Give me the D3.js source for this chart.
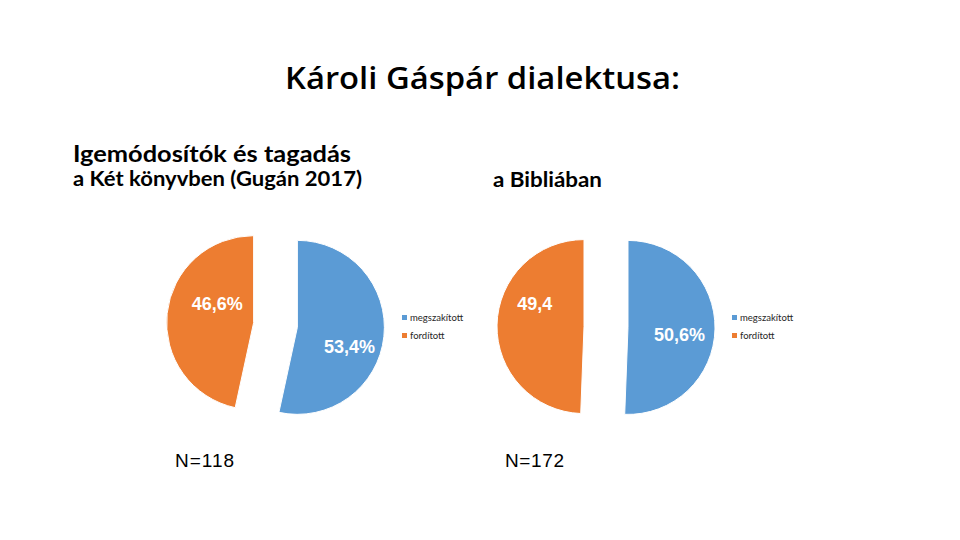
<!DOCTYPE html>
<html>
<head>
<meta charset="utf-8">
<script src="https://cdn.jsdelivr.net/npm/d3@7"></script>
<style>
  html, body { margin: 0; padding: 0; background: #fff; }
  svg { display: block; }
</style>
</head>
<body>
<svg id="chart" width="960" height="540"></svg>
<script>
// ---- data ----
const categories = ["megszakított", "fordított"];
const leftValues = [53.4, 46.6];
const rightValues = [50.6, 49.4];
const leftLabels = ["53,4%", "46,6%"];
const rightLabels = ["50,6%", "49,4"];
const leftN = "N=118";
const rightN = "N=172";
const titleText = "Károli Gáspár dialektusa:";
const subtitleLines = ["Igemódosítók és tagadás", "a Két könyvben (Gugán 2017)"];
const rightSubtitle = "a Bibliában";

// ---- style / layout ----
const colors = ["#5B9BD5", "#ED7D31"];
const svg = d3.select("#chart");
const calibriLike = "Lato, 'Open Sans', 'DejaVu Sans', sans-serif";
const titleFont = "'Open Sans', Lato, 'DejaVu Sans', sans-serif";
const arialLike = "'Liberation Sans', Arial, sans-serif";

svg.append("text")
  .attr("x", 285).attr("y", 89)
  .attr("font-family", titleFont).attr("font-size", 31).attr("font-weight", 600)
  .attr("textLength", 395).attr("lengthAdjust", "spacingAndGlyphs")
  .attr("fill", "#000").text(titleText);

svg.append("text")
  .attr("x", 73).attr("y", 162)
  .attr("font-family", calibriLike).attr("font-size", 22).attr("font-weight", "bold")
  .attr("textLength", 278).attr("lengthAdjust", "spacingAndGlyphs")
  .text(subtitleLines[0]);
svg.append("text")
  .attr("x", 73).attr("y", 186)
  .attr("font-family", calibriLike).attr("font-size", 20).attr("font-weight", "bold")
  .attr("textLength", 289).attr("lengthAdjust", "spacingAndGlyphs")
  .text(subtitleLines[1]);
svg.append("text")
  .attr("x", 493).attr("y", 187)
  .attr("font-family", calibriLike).attr("font-size", 20).attr("font-weight", "bold")
  .attr("textLength", 109).attr("lengthAdjust", "spacingAndGlyphs")
  .text(rightSubtitle);

const radius = 87;
const explode = 22;
const pie = d3.pie().sort(null).value(d => d);
const arc = d3.arc().innerRadius(0).outerRadius(radius);

function drawPie(cfg) {
  const g = svg.append("g").attr("transform", `translate(${cfg.cx},${cfg.cy})`);
  const arcs = pie(cfg.values);
  arcs.forEach((a, i) => {
    const mid = (a.startAngle + a.endAngle) / 2;
    const dx = Math.sin(mid) * explode, dy = -Math.cos(mid) * explode;
    g.append("path")
      .attr("d", arc(a))
      .attr("transform", `translate(${dx},${dy})`)
      .attr("fill", colors[i])
      .attr("stroke", "#fff").attr("stroke-width", 1);
  });
  arcs.forEach((a, i) => {
    const ang = cfg.labelAngles[i] * Math.PI / 180;
    const r = cfg.labelRadii[i];
    g.append("text")
      .attr("x", Math.sin(ang) * r)
      .attr("y", -Math.cos(ang) * r)
      .attr("dy", "0.35em")
      .attr("text-anchor", "middle")
      .attr("font-family", arialLike).attr("font-size", 18).attr("font-weight", "bold")
      .attr("fill", "#fff")
      .text(cfg.labels[i]);
  });
  // legend
  const lg = svg.append("g").attr("transform", `translate(${cfg.legendX},${cfg.legendY})`);
  categories.forEach((c, i) => {
    lg.append("rect").attr("x", 0).attr("y", i * 18 - 3).attr("width", 5).attr("height", 5)
      .attr("fill", colors[i]);
    lg.append("text").attr("x", 8).attr("y", i * 18 + 3)
      .attr("font-family", calibriLike).attr("font-size", 9.5).attr("fill", "#262626")
      .text(c);
  });
  svg.append("text")
    .attr("x", cfg.nX).attr("y", 467)
    .attr("font-family", arialLike).attr("font-size", 19)
    .attr("textLength", 59).attr("lengthAdjust", "spacing")
    .attr("fill", "#000")
    .text(cfg.n);
}

drawPie({
  cx: 275.5, cy: 325, values: leftValues, labels: leftLabels,
  labelAngles: [106, 290], labelRadii: [77, 62],
  legendX: 402, legendY: 318, nX: 175, n: leftN
});
drawPie({
  cx: 606, cy: 327, values: rightValues, labels: rightLabels,
  labelAngles: [96, 288], labelRadii: [74, 75],
  legendX: 732, legendY: 318, nX: 505, n: rightN
});
</script>
</body>
</html>
